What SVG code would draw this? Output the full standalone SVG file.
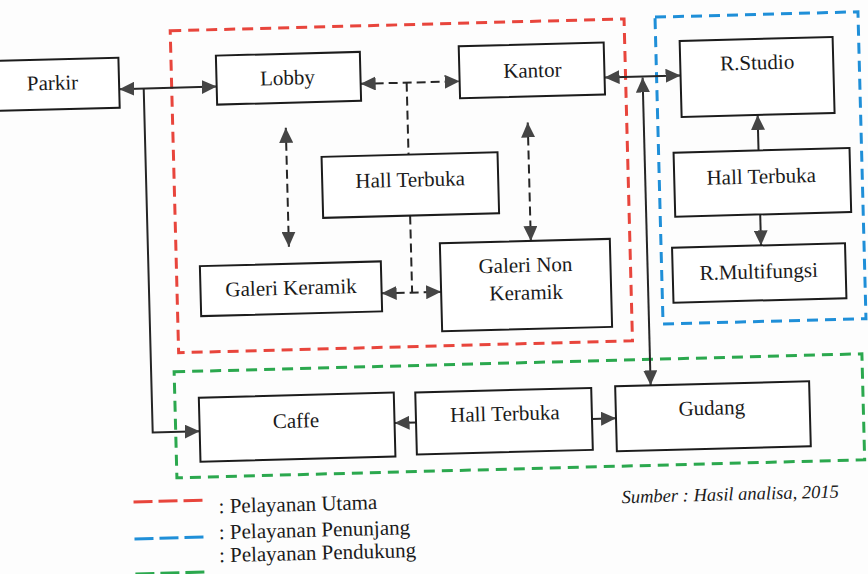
<svg xmlns="http://www.w3.org/2000/svg" width="868" height="574" viewBox="0 0 868 574">
<style>
.box{fill:#fff;stroke:#1c1c1c;stroke-width:2}
.t{font-size:21px;fill:#1a1a1a;text-anchor:middle}
.lg{font-size:21px;fill:#1a1a1a}
.src{font-size:18.5px;font-style:italic;fill:#1a1a1a}
.c{fill:none;stroke:#262626;stroke-width:2}
.d{fill:none;stroke:#262626;stroke-width:2;stroke-dasharray:9 5}
.zr{fill:none;stroke:#e8453c;stroke-width:3;stroke-dasharray:11 7}
.zb{fill:none;stroke:#1f8fd8;stroke-width:3;stroke-dasharray:11 7}
.zg{fill:none;stroke:#2ba84e;stroke-width:3;stroke-dasharray:11 7}
</style>
<defs>
<marker id="ah" markerUnits="userSpaceOnUse" markerWidth="16" markerHeight="14" refX="15" refY="7" orient="auto-start-reverse" viewBox="0 0 16 14">
<path d="M0,0 L15,7 L0,14 z" fill="#454545" stroke="none"/>
</marker>
</defs>
<rect width="868" height="574" fill="#fdfdfd"/>
<g transform="rotate(-1.5 434 287)" font-family="Liberation Serif, Tinos, Times New Roman, DejaVu Serif, Noto Serif, serif">
<g id="zones">
<rect class="zr" x="177" y="24" width="454" height="322"/>
<rect class="zb" x="662" y="23" width="203" height="307"/>
<rect class="zg" x="172" y="365" width="688" height="106"/>
</g>
<g id="connectors">
<path class="c" d="M124.5,81 H222" marker-start="url(#ah)" marker-end="url(#ah)"/>
<path class="c" d="M149,81 V425 H196" marker-end="url(#ah)"/>
<path class="d" d="M366,82 H465" marker-start="url(#ah)" marker-end="url(#ah)"/>
<path class="d" d="M412,82 V154"/>
<path class="d" d="M412,215 V292"/>
<path class="d" d="M381.5,292 H441" marker-start="url(#ah)" marker-end="url(#ah)"/>
<path class="d" d="M290,124 V243" marker-start="url(#ah)" marker-end="url(#ah)"/>
<path class="d" d="M532,125 V243.5" marker-start="url(#ah)" marker-end="url(#ah)"/>
<path class="c" d="M610,82 H686" marker-start="url(#ah)" marker-end="url(#ah)"/>
<path class="c" d="M648,83 V391" marker-start="url(#ah)" marker-end="url(#ah)"/>
<path class="c" d="M762,159 V123.5" marker-end="url(#ah)"/>
<path class="c" d="M762,223 V254" marker-end="url(#ah)"/>
<path class="c" d="M412.5,422 H391" marker-end="url(#ah)"/>
<path class="c" d="M588.5,423 H612.5" marker-end="url(#ah)"/>
</g>
<g id="parkir"><rect class="box" x="-10" y="49.5" width="134.5" height="50"/><text class="t" x="58" y="80">Parkir</text></g>
<g id="lobby"><rect class="box" x="222" y="50" width="144" height="49"/><text class="t" x="293" y="81">Lobby</text></g>
<g id="kantor"><rect class="box" x="465" y="47" width="145" height="52"/><text class="t" x="538" y="80">Kantor</text></g>
<g id="hall-terbuka-utama"><rect class="box" x="325" y="154" width="176" height="61"/><text class="t" x="413" y="186">Hall Terbuka</text></g>
<g id="galeri-keramik"><rect class="box" x="200.5" y="260" width="181" height="50"/><text class="t" x="291" y="291">Galeri Keramik</text></g>
<g id="galeri-non-keramik"><rect class="box" x="441" y="243.5" width="170" height="88"/><text class="t" x="526" y="274.5">Galeri Non</text><text class="t" x="526" y="302">Keramik</text></g>
<g id="r-studio"><rect class="box" x="686" y="47.5" width="153" height="76"/><text class="t" x="763" y="78">R.Studio</text></g>
<g id="hall-terbuka-penunjang"><rect class="box" x="677" y="159" width="176" height="64"/><text class="t" x="764" y="192">Hall Terbuka</text></g>
<g id="r-multifungsi"><rect class="box" x="673" y="254" width="173" height="55"/><text class="t" x="759" y="287">R.Multifungsi</text></g>
<g id="caffe"><rect class="box" x="196" y="391.5" width="195" height="64"/><text class="t" x="292.5" y="424">Caffe</text></g>
<g id="hall-terbuka-pendukung"><rect class="box" x="412.5" y="392" width="176" height="62"/><text class="t" x="501.5" y="422.5">Hall Terbuka</text></g>
<g id="gudang"><rect class="box" x="612.5" y="391" width="194" height="65"/><text class="t" x="708.5" y="422">Gudang</text></g>
<g id="legend">
<line class="zr" x1="128" y1="494" x2="197" y2="494" style="stroke-dasharray:19 6"/>
<text class="lg" x="213" y="507.5">: Pelayanan Utama</text>
<line class="zb" x1="128" y1="531" x2="197" y2="531" style="stroke-dasharray:19 6"/>
<text class="lg" x="212.5" y="533.5">: Pelayanan Penunjang</text>
<text class="lg" x="212" y="556.5">: Pelayanan Pendukung</text>
<line class="zg" x1="128" y1="566" x2="197" y2="566" style="stroke-dasharray:19 6"/>
<text class="src" x="616" y="508">Sumber : Hasil analisa, 2015</text>
</g>
</g>
</svg>
